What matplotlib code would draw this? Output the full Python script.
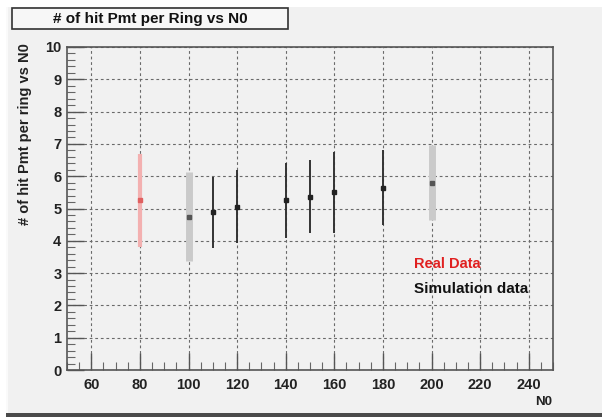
#plot of the mean number of hit PMTs per ring against N0, real data vs simulation
import numpy as np
import matplotlib.pyplot as plt
from matplotlib.patches import Rectangle
from matplotlib.ticker import MultipleLocator

# real data point
real_n0 = [80]
real_hits = [5.25]
real_err = [1.45]

# simulation points (thin black bars)
sim_n0 = [110, 120, 140, 150, 160, 180]
sim_hits = [4.88, 5.05, 5.25, 5.37, 5.50, 5.65]
sim_err = [1.10, 1.13, 1.15, 1.13, 1.25, 1.15]

# simulation points drawn with wide grey bars
sim2_n0 = [100, 200]
sim2_hits = [4.75, 5.80]
sim2_err = [1.38, 1.17]

x_ticks = [60, 80, 100, 120, 140, 160, 180, 200, 220, 240]
y_ticks = [0, 1, 2, 3, 4, 5, 6, 7, 8, 9, 10]

plt.rcParams['font.family'] = ['Liberation Sans', 'DejaVu Sans']
plt.rcParams['font.weight'] = 'bold'

W, H = 602, 417
fig = plt.figure(figsize=(W / 100, H / 100), dpi=100, facecolor='white')

# canvas background and frame
fig.patches.append(Rectangle((6 / W, 4 / H), 1 - 6 / W, (H - 11) / H, transform=fig.transFigure,
                             facecolor='#f1f1f1', edgecolor='none', zorder=-2))
fig.patches.append(Rectangle((6 / W, 0), 1 - 6 / W, 4 / H, transform=fig.transFigure,
                             facecolor='#4a4a4a', edgecolor='none', zorder=-2))
fig.patches.append(Rectangle((6 / W, 4 / H), 2 / W, (H - 11) / H, transform=fig.transFigure,
                             facecolor='#fafafa', edgecolor='none', zorder=-1))

ax = fig.add_axes([67 / W, (H - 370) / H, (553 - 67) / W, (370 - 47) / H])
ax.set_zorder(1)
ax.set_facecolor('#f1f1f1')

ax.errorbar(real_n0, real_hits, yerr=real_err, fmt='s', ms=2.5, color='#e06060',
            ecolor='#f3b0b0', elinewidth=3, capsize=0, zorder=3)
ax.errorbar(sim2_n0, sim2_hits, yerr=sim2_err, fmt='s', ms=2.5, color='#555555',
            ecolor='#cacaca', elinewidth=5, capsize=0, zorder=3)
ax.errorbar(sim_n0, sim_hits, yerr=sim_err, fmt='s', ms=2.5, color='#222222',
            ecolor='#333333', elinewidth=1.4, capsize=0, zorder=3)

ax.set_xlim(50, 250)
ax.set_ylim(0, 10)
ax.set_xticks(x_ticks)
ax.set_yticks(y_ticks)
ax.xaxis.set_minor_locator(MultipleLocator(5))
ax.yaxis.set_minor_locator(MultipleLocator(0.2))
ax.tick_params(which='major', direction='in', length=12, width=1, color='#555555',
               labelsize=10.5, labelcolor='#222222', top=False, right=False)
ax.tick_params(which='minor', direction='in', length=6, width=0.8, color='#666666',
               top=False, right=False)
ax.tick_params(axis='x', pad=6)
ax.tick_params(axis='y', pad=4)
ax.grid(True, which='major', color='#6a6a6a', linestyle=(0, (2.5, 2.5)), linewidth=0.8)
ax.set_axisbelow(True)
for s in ax.spines.values():
    s.set_color('#555555')
    s.set_linewidth(1.2)

# axis titles
fig.text(25 / W, (H - 43) / H, '# of hit Pmt per ring vs N0', rotation=90, ha='center', va='top',
         fontsize=10.5, fontweight='bold', color='#222222')
fig.text(552 / W, (H - 402) / H, 'N0', ha='right', va='center',
         fontsize=9.5, fontweight='bold', color='#222222')

ax.text(0.714, 0.315, 'Real Data', transform=ax.transAxes, color='#e02020',
        fontsize=10.5, fontweight='bold')
ax.text(0.714, 0.237, 'Simulation data', transform=ax.transAxes, color='#111111',
        fontsize=11, fontweight='bold')

# title box
fig.patches.append(Rectangle((12 / W, (H - 29) / H), 276 / W, 21 / H, transform=fig.transFigure,
                             facecolor='#f7f7f7', edgecolor='#333333', linewidth=1.2, zorder=2))
fig.text(150 / W, (H - 18.5) / H, '# of hit Pmt per Ring vs N0', ha='center', va='center',
         fontsize=11, fontweight='bold', color='#111111', zorder=3)

fig.savefig('out.png', dpi=100, facecolor=fig.get_facecolor())
